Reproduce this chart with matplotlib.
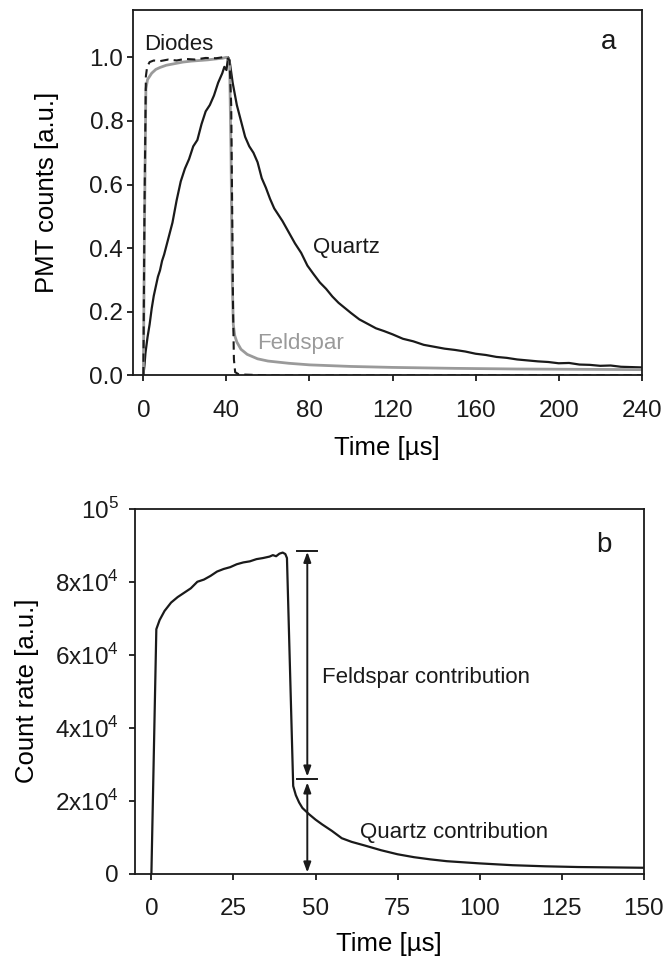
import matplotlib
matplotlib.use("Agg")
import matplotlib.pyplot as plt

plt.rcParams["font.family"] = ["Liberation Sans", "DejaVu Sans"]
plt.rcParams["mathtext.fontset"] = "custom"
plt.rcParams["mathtext.rm"] = "Liberation Sans"

DARK = "#1a1a1a"
GREY = "#9a9a9a"

# --- panel a: normalised PMT counts ---
t_diode = [0, 0.5, 1.2, 1.8, 3, 5, 8, 12, 16, 20, 25, 30, 35, 38, 40, 41.5, 42.3, 42.8, 43.2, 43.6, 44.2, 46, 60, 240]
v_diode = [0, 0.5, 0.94, 0.97, 0.985, 0.99, 0.988, 0.993, 0.99, 0.995, 0.993, 0.998, 0.997, 1.0, 1.0, 0.99, 0.85, 0.5, 0.2, 0.05, 0.01, 0.003, 0.0, 0.0]

t_feld = [0, 0.5, 1.2, 2, 4, 6, 8, 11, 15, 19, 23, 27, 31, 35, 38, 40, 41.5, 42.2, 42.8, 43.3, 44, 45, 47, 50, 55, 60,
          70, 80, 100, 120, 150, 180, 210, 240]
v_feld = [0, 0.45, 0.9, 0.93, 0.95, 0.962, 0.968, 0.975, 0.98, 0.985, 0.988, 0.99, 0.992, 0.995, 0.997, 1.0, 0.99, 0.7,
          0.3, 0.16, 0.125, 0.105, 0.082, 0.066, 0.052, 0.045, 0.038, 0.033, 0.028, 0.025, 0.022, 0.02, 0.019, 0.018]

t_quartz = [0, 0.5, 1, 2, 3, 4, 5, 6, 7, 8, 9, 10, 12, 14, 16, 18, 20, 22, 24, 26, 28, 30, 32, 34, 36, 38, 39, 40,
            40.8, 41.5, 43, 45, 47, 49, 51, 53, 55, 57, 59, 61, 63, 65, 67, 70, 73, 76, 79, 82, 85, 88, 91, 94, 97,
            100, 104, 108, 112, 116, 120, 125, 130, 135, 140, 145, 150, 155, 160, 165, 170, 175, 180, 185, 190, 195,
            200, 205, 210, 215, 220, 225, 230, 235, 240]
v_quartz = [0, 0.03, 0.07, 0.12, 0.16, 0.21, 0.25, 0.28, 0.31, 0.33, 0.36, 0.38, 0.43, 0.48, 0.55, 0.61, 0.65, 0.68,
            0.72, 0.74, 0.79, 0.83, 0.85, 0.88, 0.92, 0.95, 0.97, 0.96, 1.0, 0.99, 0.92, 0.85, 0.8, 0.75, 0.72, 0.7,
            0.67, 0.62, 0.59, 0.555, 0.525, 0.505, 0.485, 0.45, 0.415, 0.385, 0.345, 0.318, 0.292, 0.272, 0.248,
            0.228, 0.212, 0.196, 0.176, 0.162, 0.148, 0.139, 0.129, 0.115, 0.107, 0.096, 0.09, 0.084, 0.08, 0.075,
            0.068, 0.064, 0.058, 0.055, 0.05, 0.047, 0.044, 0.042, 0.038, 0.039, 0.034, 0.033, 0.03, 0.031, 0.027,
            0.026, 0.025]

# --- panel b: count rate ---
t_rate = [0, 1.5, 2.5, 4, 6, 8, 10, 12, 14, 16, 18, 20, 22, 24, 26, 28, 30, 32, 34, 36, 37, 38, 39, 40, 40.8, 41.3,
          43.2, 44, 45, 46, 48, 50, 52, 55, 58, 61, 65, 70, 75, 80, 85, 90, 95, 100, 110, 120, 130, 140, 150]
v_rate = [0, 67000, 69500, 72000, 74300, 75800, 77000, 78200, 80000, 80600, 81600, 82800, 83500, 84000, 84800, 85300,
          85600, 86200, 86500, 86900, 87300, 87000, 87700, 88000, 87600, 86500, 24000, 21500, 19500, 18000, 16300,
          14800, 13500, 11700, 9700, 8700, 7700, 6400, 5300, 4500, 3900, 3400, 3100, 2800, 2300, 2000, 1800, 1700,
          1600]

a_xticks = [0, 40, 80, 120, 160, 200, 240]
a_yticks = [0.0, 0.2, 0.4, 0.6, 0.8, 1.0]
b_xticks = [0, 25, 50, 75, 100, 125, 150]
b_yticks = [0, 20000, 40000, 60000, 80000, 100000]
b_ylabels = ["0", r"2x10$^\mathregular{4}$", r"4x10$^\mathregular{4}$", r"6x10$^\mathregular{4}$",
             r"8x10$^\mathregular{4}$", r"10$^\mathregular{5}$"]

# arrow annotation levels in panel b
arrow_t = 47.5
peak_level = 88500
split_level = 25800

TICK_FS = 17.5
LABEL_FS = 18.5
NOTE_FS = 16


def style(ax, ypad):
    for s in ax.spines.values():
        s.set_linewidth(1.3)
        s.set_color(DARK)
    ax.tick_params(direction="out", length=4.5, width=1.3, labelsize=TICK_FS, colors=DARK)
    ax.tick_params(axis="x", pad=13)
    ax.tick_params(axis="y", pad=ypad)


fig = plt.figure(figsize=(6.65, 9.6), dpi=100)

ax1 = fig.add_axes([0.200, 0.609, 0.765, 0.381])
ax1.plot(t_quartz, v_quartz, color=DARK, lw=1.6)
ax1.plot(t_feld, v_feld, color=GREY, lw=2.0)
ax1.plot(t_diode, v_diode, color=DARK, lw=1.5, ls=(0, (4, 2.5)))
ax1.set_xlim(-5, 240)
ax1.set_ylim(0, 1.15)
ax1.set_xticks(a_xticks)
ax1.set_yticks(a_yticks)
ax1.set_yticklabels([f"{v:.1f}" for v in a_yticks])
style(ax1, 2.5)
ax1.set_xlabel("Time [µs]", fontsize=LABEL_FS, labelpad=10)
ax1.set_ylabel("PMT counts [a.u.]", fontsize=LABEL_FS, labelpad=22)
ax1.text(0.5, 1.04, "Diodes", fontsize=NOTE_FS, color=DARK, va="center")
ax1.text(81.5, 0.403, "Quartz", fontsize=NOTE_FS, color=DARK, va="center")
ax1.text(55, 0.10, "Feldspar", fontsize=NOTE_FS, color=GREY, va="center")
ax1.text(224, 1.047, "a", fontsize=20, color=DARK, ha="center", va="center")

ax2 = fig.add_axes([0.203, 0.090, 0.765, 0.380])
ax2.plot(t_rate, v_rate, color=DARK, lw=1.6)
ax2.set_xlim(-5, 150)
ax2.set_ylim(0, 100000)
ax2.set_xticks(b_xticks)
ax2.set_yticks(b_yticks)
ax2.set_yticklabels(b_ylabels)
style(ax2, 7)
ax2.set_xlabel("Time [µs]", fontsize=LABEL_FS, labelpad=9)
ax2.set_ylabel("Count rate [a.u.]", fontsize=LABEL_FS, labelpad=12)

arrow = dict(arrowstyle="<|-|>,head_length=0.6,head_width=0.22", color=DARK, lw=1.4, shrinkA=0, shrinkB=0)
ax2.annotate("", xy=(arrow_t, peak_level - 300), xytext=(arrow_t, split_level + 800), arrowprops=arrow)
ax2.annotate("", xy=(arrow_t, split_level - 800), xytext=(arrow_t, 300), arrowprops=arrow)
ax2.plot([arrow_t - 3, arrow_t + 3], [peak_level, peak_level], color=DARK, lw=1.4)
ax2.plot([arrow_t - 3, arrow_t + 3], [split_level, split_level], color=DARK, lw=1.4)
ax2.text(52, 53800, "Feldspar contribution", fontsize=NOTE_FS, color=DARK, va="center")
ax2.text(63.5, 11300, "Quartz contribution", fontsize=NOTE_FS, color=DARK, va="center")
ax2.text(138, 90000, "b", fontsize=20, color=DARK, ha="center", va="center")

fig.savefig("out.png", dpi=100)
